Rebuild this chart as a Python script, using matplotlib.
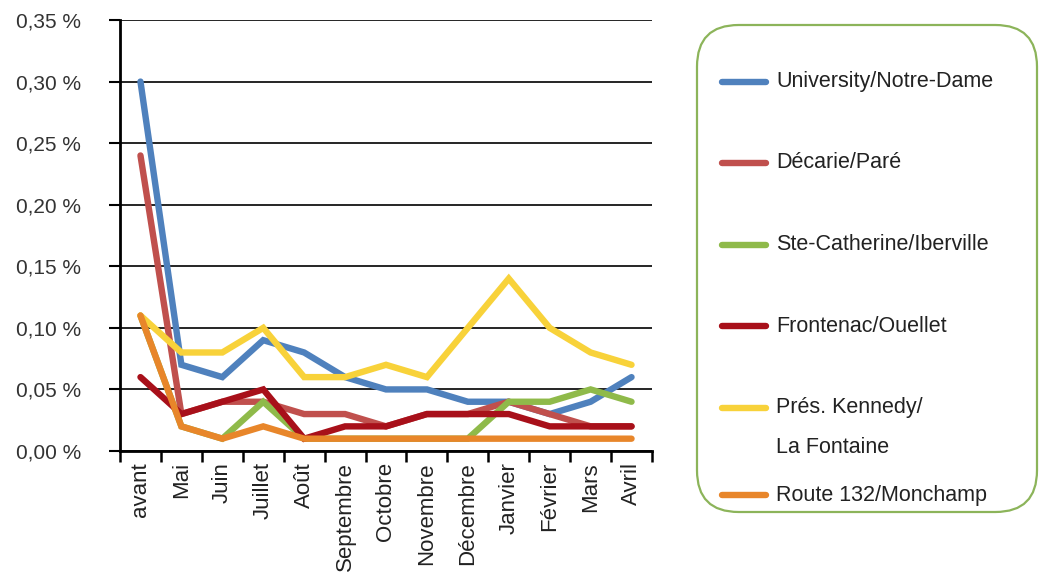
import matplotlib
matplotlib.use('Agg')
import matplotlib.pyplot as plt
from matplotlib.ticker import FixedLocator
from matplotlib.lines import Line2D
from matplotlib.patches import FancyBboxPatch

# categories (months) and series values in %
mois = ['avant', 'Mai', 'Juin', 'Juillet', 'Août', 'Septembre', 'Octobre',
        'Novembre', 'Décembre', 'Janvier', 'Février', 'Mars', 'Avril']

university = [0.30, 0.07, 0.06, 0.09, 0.08, 0.06, 0.05, 0.05, 0.04, 0.04, 0.03, 0.04, 0.06]
decarie = [0.24, 0.03, 0.04, 0.04, 0.03, 0.03, 0.02, 0.03, 0.03, 0.04, 0.03, 0.02, 0.02]
ste_catherine = [0.11, 0.02, 0.01, 0.04, 0.01, 0.01, 0.01, 0.01, 0.01, 0.04, 0.04, 0.05, 0.04]
frontenac = [0.06, 0.03, 0.04, 0.05, 0.01, 0.02, 0.02, 0.03, 0.03, 0.03, 0.02, 0.02, 0.02]
kennedy = [0.11, 0.08, 0.08, 0.10, 0.06, 0.06, 0.07, 0.06, 0.10, 0.14, 0.10, 0.08, 0.07]
route132 = [0.11, 0.02, 0.01, 0.02, 0.01, 0.01, 0.01, 0.01, 0.01, 0.01, 0.01, 0.01, 0.01]

y_ticks = [0.0, 0.05, 0.10, 0.15, 0.20, 0.25, 0.30, 0.35]
y_labels = ['0,00 %', '0,05 %', '0,10 %', '0,15 %', '0,20 %', '0,25 %', '0,30 %', '0,35 %']

series = [
    (university, '#4f81bd', 'University/Notre-Dame'),
    (decarie, '#c0504d', 'Décarie/Paré'),
    (ste_catherine, '#8fba4a', 'Ste-Catherine/Iberville'),
    (frontenac, '#a8101a', 'Frontenac/Ouellet'),
    (kennedy, '#f8d23a', 'Prés. Kennedy/\nLa Fontaine'),
    (route132, '#e8862a', 'Route 132/Monchamp'),
]

W, H = 1042, 587
fig = plt.figure(figsize=(W / 100, H / 100), dpi=100)
ax = fig.add_axes([120 / W, 1 - 451 / H, 532 / W, 431 / H])

x = list(range(len(mois)))
for vals, col, lab in series:
    ax.plot(x, vals, color=col, lw=4.6, label=lab, solid_capstyle='round',
            solid_joinstyle='miter')

ax.set_xlim(-0.5, len(mois) - 0.5)
ax.set_ylim(0, 0.35)

ax.yaxis.set_major_locator(FixedLocator(y_ticks))
ax.set_yticklabels(y_labels, fontsize=15, family='Liberation Sans', color='#333333')
ax.grid(axis='y', color='black', lw=1.2)
ax.set_axisbelow(True)

ax.set_xticks(x)
ax.set_xticklabels(mois, rotation=90, fontsize=16, family='Liberation Sans',
                   color='#222222')
ax.set_xticks([i - 0.5 for i in range(len(mois) + 1)], minor=True)
ax.tick_params(axis='x', which='major', length=0, pad=8)
ax.tick_params(axis='x', which='minor', length=8, width=1.8, direction='out')
ax.tick_params(axis='y', length=8, width=1.5, direction='out', pad=20)

for s in ['top', 'right']:
    ax.spines[s].set_visible(False)
for s in ['left', 'bottom']:
    ax.spines[s].set_linewidth(2)

# legend box drawn by hand (rounded green frame)
box = FancyBboxPatch((697 / W, 1 - 512 / H), 340 / W, 487 / H,
                     boxstyle='round,pad=0,rounding_size=0.04',
                     transform=fig.transFigure, facecolor='white',
                     edgecolor='#8cb45a', lw=1.6,
                     mutation_aspect=W / H)
fig.add_artist(box)

entry_y = [82, 163, 245, 326, 408, 495]
for (vals, col, lab), yy in zip(series, entry_y):
    yf = 1 - yy / H
    fig.add_artist(Line2D([722 / W, 766 / W], [yf, yf], color=col, lw=4.6,
                          solid_capstyle='round', transform=fig.transFigure))
    if '\n' in lab:
        # two-line label: first line level with the swatch
        fig.text(776 / W, 1 - (yy - 11) / H, lab, fontsize=15.5,
                 family='Liberation Sans', color='#222222', va='top',
                 linespacing=2.2)
    else:
        fig.text(776 / W, yf, lab, fontsize=15.5, family='Liberation Sans',
                 color='#222222', va='center')

fig.savefig('out.png', dpi=100)
